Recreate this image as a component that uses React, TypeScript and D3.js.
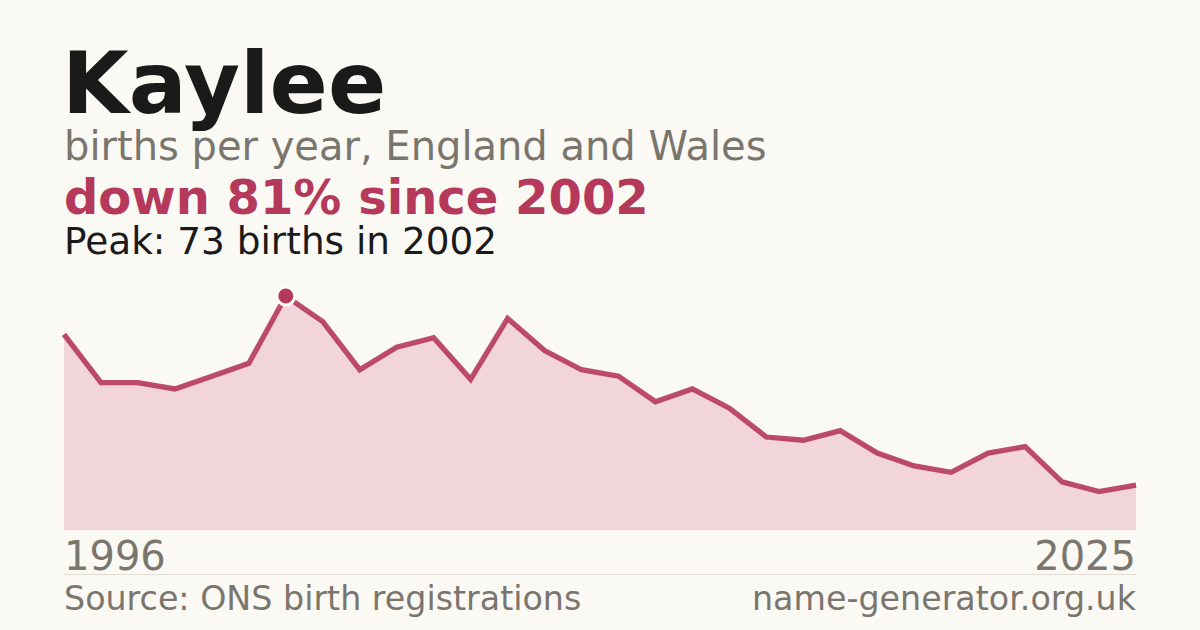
import React from "react";
import * as d3 from "d3";

const years: number[] = [
  1996, 1997, 1998, 1999, 2000, 2001, 2002, 2003, 2004, 2005,
  2006, 2007, 2008, 2009, 2010, 2011, 2012, 2013, 2014, 2015,
  2016, 2017, 2018, 2019, 2020, 2021, 2022, 2023, 2024, 2025,
];
const births: number[] = [
  61, 46, 46, 44, 48, 52, 73, 65, 50, 57,
  60, 47, 66, 56, 50, 48, 40, 44, 38, 29,
  28, 31, 24, 20, 18, 24, 26, 15, 12, 14,
];
const title = "Kaylee";
const subtitle = "births per year, England and Wales";
const headline = "down 81% since 2002";
const peakText = "Peak: 73 births in 2002";
const sourceText = "Source: ONS birth registrations";
const siteText = "name-generator.org.uk";

const W = 1200;
const H = 630;
const LEFT = 64;
const RIGHT = 1136;
const BASE = 530;
const TOP = 296;
const FONT = "'DejaVu Sans', sans-serif";
const ACCENT = "#b5395a";
const GREY = "#7a766e";

export default function App() {
  const x = d3.scaleLinear().domain([years[0], years[years.length - 1]]).range([LEFT, RIGHT]);
  const maxV = d3.max(births) as number;
  const y = d3.scaleLinear().domain([0, maxV]).range([BASE, TOP]);
  const pts = years.map((yr, i) => ({ yr, v: births[i] }));
  const area = d3.area<{ yr: number; v: number }>().x((d) => x(d.yr)).y0(BASE).y1((d) => y(d.v))(pts) as string;
  const line = d3.line<{ yr: number; v: number }>().x((d) => x(d.yr)).y((d) => y(d.v))(pts) as string;
  const peakIdx = births.indexOf(maxV);
  return (
    <svg width={W} height={H} viewBox={`0 0 ${W} ${H}`} style={{ position: "absolute", left: 0, top: 0 }} fontFamily={FONT}>
      <rect width={W} height={H} fill="#faf9f4" />
      <text x={LEFT - 2} y={113} fontSize={86} fontWeight="bold" fill="#1a1a1a">{title}</text>
      <text x={LEFT} y={160} fontSize={40} fill={GREY}>{subtitle}</text>
      <text x={LEFT} y={214} fontSize={48} fontWeight="bold" fill={ACCENT}>{headline}</text>
      <text x={LEFT} y={254} fontSize={37.4} fill="#1a1a1a">{peakText}</text>
      <path d={area} fill="#f1d5db" />
      <path d={line} fill="none" stroke={ACCENT} strokeWidth={5.3} strokeOpacity={0.9} strokeLinejoin="miter" strokeLinecap="butt" />
      <circle cx={x(years[peakIdx])} cy={y(maxV)} r={9} fill={ACCENT} stroke="#ffffff" strokeWidth={3} />
      <text x={LEFT} y={570} fontSize={40} fill={GREY}>{years[0]}</text>
      <text x={RIGHT} y={570} fontSize={40} fill={GREY} textAnchor="end">{years[years.length - 1]}</text>
      <line x1={LEFT} x2={RIGHT} y1={574.5} y2={574.5} stroke="#e0dcd3" strokeWidth={1} />
      <text x={LEFT} y={610} fontSize={33.3} fill={GREY}>{sourceText}</text>
      <text x={RIGHT} y={610} fontSize={33.3} fill={GREY} textAnchor="end">{siteText}</text>
    </svg>
  );
}
